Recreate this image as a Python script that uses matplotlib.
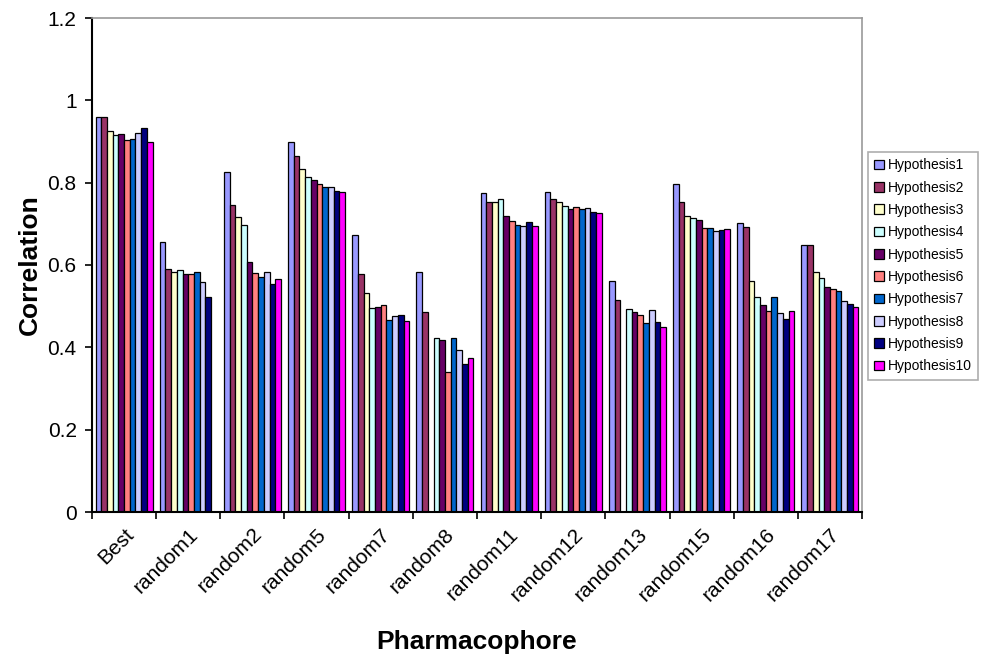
import numpy as np
import matplotlib
matplotlib.use("Agg")
import matplotlib.pyplot as plt
from matplotlib.patches import Patch

plt.rcParams['font.family'] = ['Liberation Sans', 'DejaVu Sans']

categories = ["Best", "random1", "random2", "random5", "random7", "random8",
              "random11", "random12", "random13", "random15", "random16", "random17"]

series_names = [f"Hypothesis{i}" for i in range(1, 11)]

nan = np.nan
hypothesis1 = [0.960, 0.655, 0.827, 0.898, 0.672, 0.583, 0.774, 0.778, 0.560, 0.796, 0.701, 0.648]
hypothesis2 = [0.959, 0.590, 0.746, 0.865, 0.577, 0.486, 0.752, 0.761, 0.514, 0.754, 0.692, 0.649]
hypothesis3 = [0.925, 0.584, 0.716, 0.833, 0.533, nan,   0.752, 0.753, nan,   0.719, 0.561, 0.584]
hypothesis4 = [0.916, 0.588, 0.698, 0.813, 0.496, 0.422, 0.760, 0.744, 0.494, 0.713, 0.522, 0.569]
hypothesis5 = [0.919, 0.578, 0.608, 0.807, 0.499, 0.418, 0.720, 0.735, 0.485, 0.709, 0.503, 0.547]
hypothesis6 = [0.903, 0.577, 0.581, 0.797, 0.503, 0.341, 0.707, 0.742, 0.478, 0.689, 0.489, 0.541]
hypothesis7 = [0.906, 0.582, 0.570, 0.789, 0.467, 0.423, 0.696, 0.735, 0.459, 0.689, 0.523, 0.538]
hypothesis8 = [0.921, 0.559, 0.582, 0.789, 0.475, 0.393, 0.695, 0.738, 0.491, 0.683, 0.483, 0.513]
hypothesis9 = [0.932, 0.522, 0.554, 0.780, 0.479, 0.359, 0.704, 0.728, 0.461, 0.684, 0.468, 0.506]
hypothesis10 = [0.899, nan,  0.566, 0.777, 0.463, 0.373, 0.695, 0.726, 0.449, 0.687, 0.488, 0.499]

series_values = [hypothesis1, hypothesis2, hypothesis3, hypothesis4, hypothesis5,
                 hypothesis6, hypothesis7, hypothesis8, hypothesis9, hypothesis10]

colors = ["#9999FF", "#993366", "#FFFFCC", "#CCFFFF", "#660066",
          "#FF8080", "#0066CC", "#CCCCFF", "#000080", "#FF00FF"]

fig = plt.figure(figsize=(9.87, 6.57), dpi=100)
ax = fig.add_axes([92 / 987, 1 - 512 / 657, (862 - 92) / 987, (512 - 18) / 657])

n_series = len(series_values)
bar_w = 1.0 / (n_series + 1.26)
x = np.arange(len(categories))
for i, (vals, col) in enumerate(zip(series_values, colors)):
    offs = (i - (n_series - 1) / 2) * bar_w
    ax.bar(x + offs, vals, width=bar_w, color=col, edgecolor="black",
           linewidth=0.9, zorder=2)

ax.set_xlim(-0.5, len(categories) - 0.5)
ax.set_ylim(0, 1.2)
ax.set_yticks(np.arange(0, 1.21, 0.2))
ax.set_yticklabels(["0", "0.2", "0.4", "0.6", "0.8", "1", "1.2"], fontsize=15)

# category labels sit between boundary tick marks
ax.set_xticks(np.arange(-0.5, len(categories), 1.0))
ax.set_xticklabels([])
ax.tick_params(axis="x", which="major", direction="out", length=5, width=1.2)
ax.tick_params(axis="y", which="major", direction="out", length=5, width=1.2, pad=6)
ax.set_xticks(x, minor=True)
ax.set_xticklabels(categories, minor=True, rotation=45, ha="right",
                   rotation_mode="anchor", fontsize=15)
ax.tick_params(axis="x", which="minor", length=0, pad=9)

for side in ("left", "bottom"):
    ax.spines[side].set_color("black")
    ax.spines[side].set_linewidth(1.5)
for side in ("top", "right"):
    ax.spines[side].set_color("#999999")
    ax.spines[side].set_linewidth(1.2)

ax.set_ylabel("Correlation", fontsize=19, fontweight="bold", labelpad=4)
ax.set_xlabel("Pharmacophore", fontsize=19, fontweight="bold", labelpad=18)

handles = [Patch(facecolor=c, edgecolor="black", linewidth=0.9) for c in colors]
leg = fig.legend(handles, series_names, loc="upper left",
                 bbox_to_anchor=(868 / 987, 1 - 152 / 657), fontsize=10,
                 frameon=True, fancybox=False, handlelength=0.7, handleheight=0.7,
                 handletextpad=0.3, labelspacing=0.6, borderpad=0.45,
                 borderaxespad=0)
leg.get_frame().set_edgecolor("#999999")
leg.get_frame().set_linewidth(1.2)

fig.savefig("out.png", dpi=100)
